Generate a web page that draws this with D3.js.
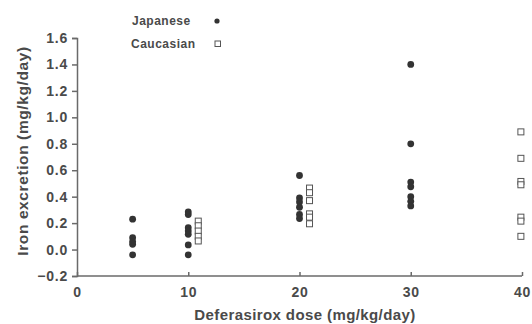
<!DOCTYPE html>
<html><head><meta charset="utf-8">
<script src="https://cdn.jsdelivr.net/npm/d3@7"></script>
<style>body{margin:0;background:#fff}svg{display:block}</style>
</head><body>
<svg id="c" width="532" height="324"></svg>
<script>
const japaneseDose = [5,5,5,5,5, 10,10,10,10,10,10,10, 20,20,20,20,20,20, 30,30,30,30,30,30,30];
const japaneseExcretion = [0.23,0.09,0.06,0.04,-0.04, 0.285,0.265,0.165,0.14,0.115,0.035,-0.04, 0.56,0.39,0.36,0.32,0.265,0.235, 1.40,0.80,0.51,0.475,0.40,0.365,0.33];
const caucasianDose = [10.9,10.9,10.9,10.9,10.9, 20.9,20.9,20.9,20.9,20.9,20.9, 39.9,39.9,39.9,39.9,39.9,39.9,39.9];
const caucasianExcretion = [0.215,0.18,0.14,0.10,0.065, 0.465,0.43,0.37,0.27,0.245,0.195, 0.89,0.69,0.515,0.49,0.245,0.215,0.10];
const xTicks = [0,10,20,30,40];
const yTicks = [-0.2,0,0.2,0.4,0.6,0.8,1.0,1.2,1.4,1.6];
const seriesNames = ["Japanese","Caucasian"];

const svg = d3.select("#c");
const x = d3.scaleLinear().domain([0,40]).range([77,522]);
const y = d3.scaleLinear().domain([-0.2,1.6]).range([276,38]);
const txt = "#4a4a4a", ax = "#6a6a6a", pt = "#333";
const font = "Arial, 'Liberation Sans', sans-serif";

const gx = svg.append("g").attr("transform","translate(0,276)")
  .call(d3.axisBottom(x).tickValues(xTicks).tickSize(-4).tickFormat(d3.format("d")));
const gy = svg.append("g").attr("transform","translate(77,0)")
  .call(d3.axisLeft(y).tickValues(yTicks).tickSize(5).tickFormat(d3.format(".1f")));
[gx,gy].forEach(g=>{
  g.select(".domain").attr("stroke",ax).attr("stroke-width",1.5);
  g.selectAll(".tick line").attr("stroke",ax).attr("stroke-width",1.5);
  g.selectAll("text").attr("fill",txt).attr("font-family",font).attr("font-weight","bold")
    .attr("font-size",14).attr("letter-spacing",0.8);
});
gx.selectAll("text").attr("y",21).attr("dy",0);
gy.selectAll("text").attr("x",-9);
gx.select(".domain").attr("d","M77,0H522");

svg.append("text").attr("x",305).attr("y",320).attr("text-anchor","middle")
  .attr("fill",txt).attr("font-family",font).attr("font-weight","bold").attr("font-size",15)
  .attr("letter-spacing",0.4)
  .text("Deferasirox dose (mg/kg/day)");
svg.append("text").attr("transform","translate(28,151) rotate(-90)").attr("text-anchor","middle")
  .attr("fill",txt).attr("font-family",font).attr("font-weight","bold").attr("font-size",15.5)
  .attr("letter-spacing",0.6)
  .text("Iron excretion (mg/kg/day)");

svg.append("g").selectAll("circle").data(japaneseDose).join("circle")
  .attr("cx",(d)=>x(d)).attr("cy",(d,i)=>y(japaneseExcretion[i])).attr("r",3.4).attr("fill",pt);
svg.append("g").selectAll("rect").data(caucasianDose).join("rect")
  .attr("x",(d)=>x(d)-3).attr("y",(d,i)=>y(caucasianExcretion[i])-3).attr("width",6).attr("height",6)
  .attr("fill","#fff").attr("stroke","#555").attr("stroke-width",1);

// legend
const lg = svg.append("g");
lg.append("text").attr("x",132).attr("y",25).text(seriesNames[0]);
lg.append("text").attr("x",131).attr("y",48).text(seriesNames[1]);
lg.selectAll("text").attr("fill",txt).attr("font-family",font).attr("font-weight","bold")
  .attr("font-size",12).attr("letter-spacing",0.5);
lg.append("circle").attr("cx",217).attr("cy",21).attr("r",2.6).attr("fill",pt);
lg.append("rect").attr("x",215).attr("y",41).attr("width",5.5).attr("height",5.5).attr("fill","#fff").attr("stroke","#555");
</script>
</body></html>
